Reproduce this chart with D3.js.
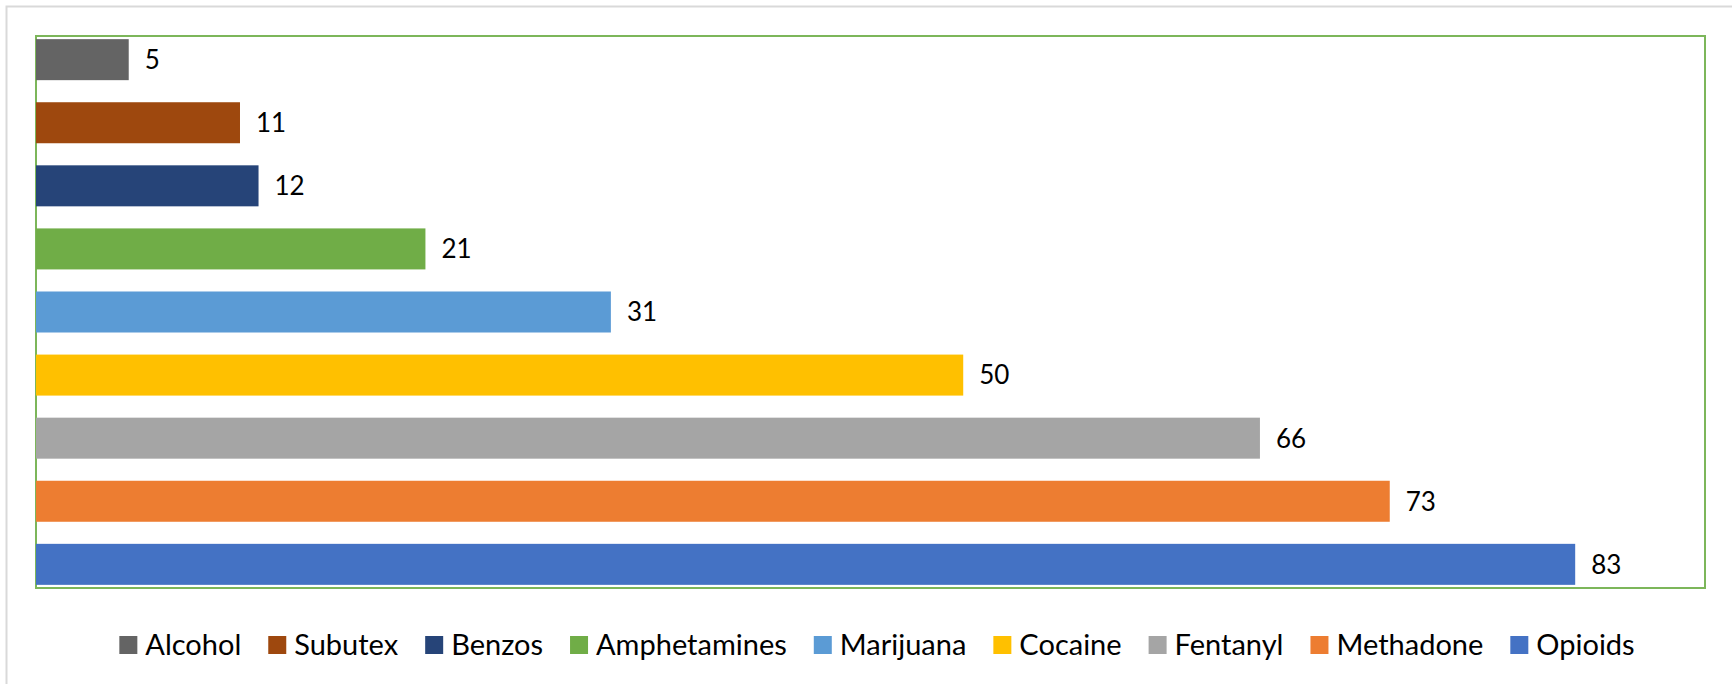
<!DOCTYPE html>
<html>
<head>
<meta charset="utf-8">
<script src="https://cdn.jsdelivr.net/npm/d3@7"></script>
<style>
  html, body { margin: 0; padding: 0; background: #ffffff; }
  svg { display: block; }
  text { font-family: Lato, "Liberation Sans", sans-serif; fill: #000000; }
</style>
</head>
<body>
<svg id="chart" width="1732" height="684"></svg>
<script>
// Substances, top to bottom, with their counts
const categories = ["Alcohol", "Subutex", "Benzos", "Amphetamines", "Marijuana", "Cocaine", "Fentanyl", "Methadone", "Opioids"];
const values = [5, 11, 12, 21, 31, 50, 66, 73, 83];
const colors = ["#646464", "#9E480E", "#264478", "#70AD47", "#5B9BD5", "#FFC000", "#A5A5A5", "#ED7D31", "#4472C4"];
const xMax = 90;

const W = 1732, H = 684;
const plot = { left: 36, top: 36, right: 1705, bottom: 588 };

const svg = d3.select("#chart");

// Chart area outline (runs past the right and bottom edges)
svg.append("rect")
  .attr("x", 6.5).attr("y", 6.5)
  .attr("width", W + 20).attr("height", H + 20)
  .attr("fill", "#ffffff")
  .attr("stroke", "#D9D9D9")
  .attr("stroke-width", 2);

// Plot area outline
svg.append("rect")
  .attr("x", plot.left).attr("y", plot.top)
  .attr("width", plot.right - plot.left).attr("height", plot.bottom - plot.top)
  .attr("fill", "none")
  .attr("stroke", "#7CB65A")
  .attr("stroke-width", 2);

const x = d3.scaleLinear().domain([0, xMax]).range([plot.left, plot.right]);
const y = d3.scaleBand().domain(categories).range([plot.top, plot.bottom])
  .paddingInner(0.35).paddingOuter(0.05);

const data = categories.map((c, i) => ({ name: c, value: values[i], color: colors[i] }));

svg.append("g").selectAll("rect")
  .data(data)
  .join("rect")
  .attr("x", x(0))
  .attr("y", d => y(d.name))
  .attr("width", d => x(d.value) - x(0))
  .attr("height", y.bandwidth())
  .attr("fill", d => d.color);

svg.append("g").selectAll("text")
  .data(data)
  .join("text")
  .attr("x", d => x(d.value) + 16)
  .attr("y", d => y(d.name) + y.bandwidth() / 2)
  .attr("dy", "0.36em")
  .attr("font-size", 26)
  .text(d => d.value);

// Legend row: colour swatch followed by label, centred under the plot
const legend = svg.append("g");
const sw = 18, swGap = 8, itemGap = 27, legendY = 645;
const items = legend.selectAll("g").data(data).join("g");
items.append("rect")
  .attr("width", sw).attr("height", sw)
  .attr("y", legendY - sw / 2)
  .attr("fill", d => d.color);
items.append("text")
  .attr("x", sw + swGap)
  .attr("y", legendY)
  .attr("dy", "0.36em")
  .attr("font-size", 29)
  .text(d => d.name);

let cursor = 0;
items.each(function () {
  const g = d3.select(this);
  const tw = g.select("text").node().getComputedTextLength();
  g.attr("transform", `translate(${cursor},0)`);
  cursor += sw + swGap + tw + itemGap;
});
const total = cursor - itemGap;
legend.attr("transform", `translate(${877 - total / 2},0)`);
</script>
</body>
</html>
